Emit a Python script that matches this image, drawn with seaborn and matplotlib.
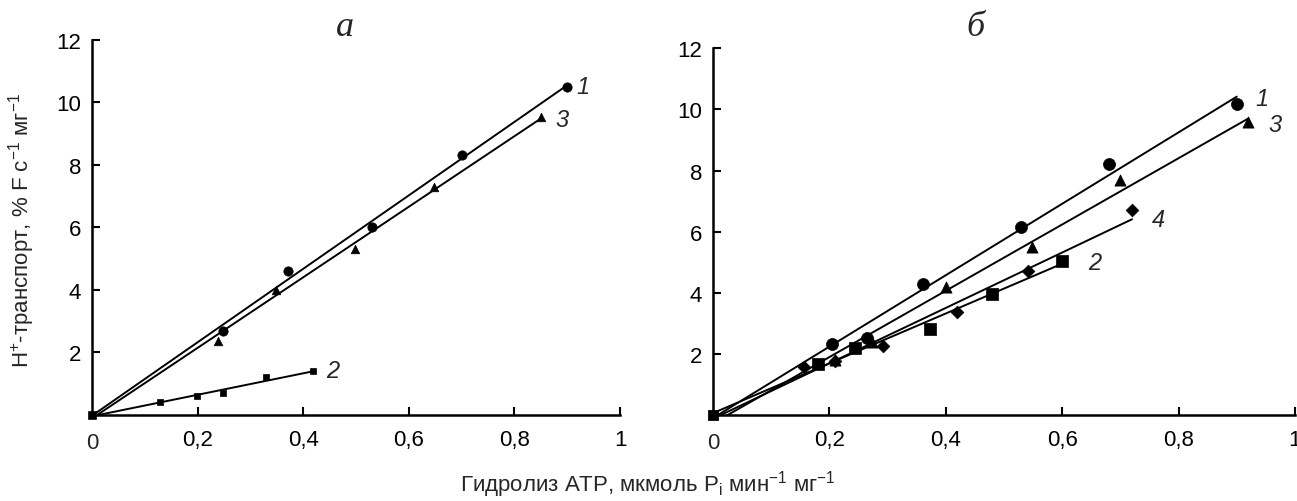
import numpy as np
import pandas as pd
import matplotlib
matplotlib.use("Agg")
import matplotlib.pyplot as plt
import seaborn as sns

# ---------------- data: panel a ----------------
a1_x = [0.0, 0.248, 0.371, 0.53, 0.70, 0.90]
a1_y = [0.0, 2.70, 4.62, 6.00, 8.32, 10.50]
a3_x = [0.0, 0.239, 0.349, 0.498, 0.648, 0.85]
a3_y = [0.0, 2.38, 4.00, 5.31, 7.28, 9.52]
a2_x = [0.0, 0.129, 0.199, 0.249, 0.33, 0.419]
a2_y = [0.0, 0.41, 0.60, 0.70, 1.20, 1.40]

# ---------------- data: panel б ----------------
b1_x = [0.0, 0.204, 0.265, 0.36, 0.53, 0.68, 0.90]
b1_y = [0.0, 2.32, 2.51, 4.28, 6.16, 8.20, 10.18]
b3_x = [0.0, 0.21, 0.273, 0.40, 0.548, 0.70, 0.92]
b3_y = [0.0, 1.80, 2.40, 4.18, 5.50, 7.70, 9.60]
b4_x = [0.0, 0.157, 0.21, 0.292, 0.42, 0.541, 0.72]
b4_y = [0.0, 1.56, 1.76, 2.26, 3.36, 4.72, 6.70]
b2_x = [0.0, 0.18, 0.244, 0.372, 0.48, 0.60]
b2_y = [0.0, 1.67, 2.18, 2.80, 3.96, 5.05]

x_ticks = [0.2, 0.4, 0.6, 0.8, 1.0]
x_tick_labels = ["0,2", "0,4", "0,6", "0,8", "1"]
y_ticks = [2, 4, 6, 8, 10, 12]
y_tick_labels = ["2", "4", "6", "8", "10", "12"]

sns.set_style("ticks")
plt.rcParams['font.family'] = ['Liberation Sans', 'DejaVu Sans']
plt.rcParams['mathtext.fontset'] = 'custom'
plt.rcParams['mathtext.rm'] = 'Liberation Sans'
plt.rcParams['mathtext.it'] = 'Liberation Sans:italic'

fig = plt.figure(figsize=(12.97, 5.02), dpi=100)
axA = fig.add_axes([92/1297, 1-416/502, (620-92)/1297, (416-40.7)/502])
axB = fig.add_axes([713/1297, 1-416/502, (1295-713)/1297, (416-49.3)/502])

LW = 1.4

def series(ax, xs, ys, marker, size):
    df = pd.DataFrame({"x": xs, "y": ys})
    sns.regplot(data=df, x="x", y="y", ax=ax, ci=None, scatter=False,
                truncate=True, line_kws=dict(color="black", lw=LW))
    sns.scatterplot(data=df.iloc[1:], x="x", y="y", ax=ax, marker=marker,
                    s=size, color="black", edgecolor="black", linewidth=0.5,
                    clip_on=False, zorder=4)

def origin(ax, size):
    sns.scatterplot(x=[0.0], y=[0.0], ax=ax, marker="s", s=size, color="black",
                    edgecolor="black", clip_on=False, zorder=5)

series(axA, a1_x, a1_y, "o", 45)
series(axA, a3_x, a3_y, "^", 38)
series(axA, a2_x, a2_y, "s", 24)
origin(axA, 34)

series(axB, b1_x, b1_y, "o", 75)
series(axB, b3_x, b3_y, "^", 65)
series(axB, b4_x, b4_y, "D", 42)
series(axB, b2_x, b2_y, "s", 80)
origin(axB, 50)

lab_kw = dict(fontsize=17, style="italic", ha="center", va="center")
axA.text(0.93, 10.5, "1", **lab_kw)
axA.text(0.89, 9.45, "3", **lab_kw)
axA.text(0.455, 1.42, "2", **lab_kw)
axB.text(0.943, 10.36, "1", **lab_kw)
axB.text(0.966, 9.5, "3", **lab_kw)
axB.text(0.766, 6.4, "4", **lab_kw)
axB.text(0.656, 5.0, "2", **lab_kw)

for ax in (axA, axB):
    ax.set_xlim(0, 1)
    ax.set_ylim(0, 12)
    ax.set_xticks(x_ticks)
    ax.set_xticklabels(x_tick_labels)
    ax.set_yticks(y_ticks)
    ax.set_yticklabels(y_tick_labels)
    ax.set_xlabel("")
    ax.set_ylabel("")
    ax.tick_params(direction="in", length=6, width=1.5, labelsize=16,
                   colors="black")
    ax.tick_params(axis="x", pad=10)
    ax.tick_params(axis="y", pad=8)
    for s in ("top", "right"):
        ax.spines[s].set_visible(False)
    for s in ("left", "bottom"):
        ax.spines[s].set_linewidth(1.8)
        ax.spines[s].set_color("black")
    ax.text(0, -0.045, "0", transform=ax.transAxes, ha="center", va="top",
            fontsize=16)

fig.text(345/1297, 1-28/502, "a", family="Liberation Serif", style="italic",
         fontsize=26, ha="center", va="center")
fig.text(975/1297, 1-28/502, "б", family="Liberation Serif", style="italic",
         fontsize=26, ha="center", va="center")

fig.text(22/1297, 1-230/502,
         "H$^{+}$-транспорт, % F с$^{-1}$ мг$^{-1}$",
         rotation=90, fontsize=16, ha="center", va="center")
fig.text(648/1297, 1-485/502,
         "Гидролиз ATP, мкмоль P$_{\\mathrm{i}}$ мин$^{-1}$ мг$^{-1}$",
         fontsize=16, ha="center", va="center")

fig.savefig("out.png", dpi=100)
